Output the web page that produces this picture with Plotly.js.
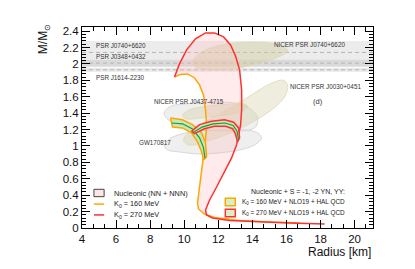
<!DOCTYPE html>
<html><head><meta charset="utf-8">
<script src="https://cdn.plot.ly/plotly-3.0.1.min.js"></script>
<style>html,body{margin:0;padding:0;background:#fff;overflow:hidden}</style>
</head><body><div id="chart" style="width:415px;height:269px"></div>
<script>
// Nucleonic (NN + NNN), K0 = 270 MeV
const redR = [9.43,9.72,10.14,10.66,11.25,11.78,12.31,12.72,13.01,13.25,13.37,13.37,13.31,13.07,12.78,12.37,11.90,11.49,11.25,11.31,11.66,12.66,14.42,16.18,18.24];
const redM = [1.841,2.0,2.171,2.305,2.378,2.378,2.329,2.232,2.098,1.927,1.683,1.439,1.256,1.012,0.854,0.683,0.500,0.341,0.220,0.159,0.122,0.091,0.073,0.061,0.049];
// Nucleonic (NN + NNN), K0 = 160 MeV
const orR = [9.43,9.78,10.19,10.61,10.90,11.13,11.25,11.31,11.25,11.13,11.02,10.90,10.78,10.84,11.19,11.78,13.25,15.01,16.77];
const orM = [1.841,1.872,1.878,1.829,1.744,1.622,1.439,1.256,1.073,0.866,0.646,0.463,0.305,0.232,0.171,0.128,0.091,0.073,0.061];

// Hyperonic band K0 = 160 MeV + NLO19 + HAL QCD
const hyOrUpR = [9.20,9.90,10.49,11.02,11.25,11.31];
const hyOrUpM = [1.34,1.32,1.26,1.16,1.04,0.87];
const hyOrLoR = [9.31,9.90,10.43,10.78,11.02,11.13];
const hyOrLoM = [1.23,1.22,1.16,1.05,0.93,0.83];
const hyOrMidR = [9.26,9.90,10.46,10.90,11.13,11.22];
const hyOrMidM = [1.28,1.27,1.21,1.10,0.98,0.85];
// Hyperonic band K0 = 270 MeV + NLO19 + HAL QCD
const hyRdUpR = [10.43,10.90,11.60,12.37,12.90,13.19,13.25];
const hyRdUpM = [1.18,1.26,1.30,1.32,1.29,1.22,1.10];
const hyRdLoR = [10.60,11.19,11.78,12.43,12.84,13.00,13.13];
const hyRdLoM = [1.15,1.21,1.24,1.24,1.21,1.15,1.05];
const hyRdMidR = [10.52,11.05,11.69,12.40,12.87,13.10,13.19];
const hyRdMidM = [1.165,1.23,1.27,1.28,1.25,1.18,1.07];

// NICER contours
const j0740R = [10.49,10.90,11.78,13.25,14.72,15.77,16.07,15.60,14.42,12.95,11.49,10.66];
const j0740M = [2.02,2.13,2.21,2.26,2.26,2.22,2.16,2.09,2.01,1.94,1.93,1.96];
const j0030R = [9.96,10.31,11.19,12.37,13.54,14.54,15.30,15.83,16.07,15.95,15.48,14.72,13.54,12.37,11.19,10.31];
const j0030M = [1.07,1.18,1.29,1.43,1.57,1.70,1.78,1.80,1.74,1.62,1.50,1.38,1.24,1.13,1.05,1.01];
const j0437R = [9.90,10.31,11.49,12.66,13.54,13.72,13.25,12.07,10.90,10.14];
const j0437M = [1.37,1.44,1.49,1.51,1.51,1.48,1.41,1.37,1.34,1.33];
// GW170817 contours
const gw1R = [8.84,9.26,10.02,10.90,12.07,13.25,13.95,14.31,14.19,13.54,12.37,11.19,10.02,9.26,8.90];
const gw1M = [1.415,1.488,1.512,1.524,1.537,1.512,1.439,1.341,1.232,1.183,1.183,1.195,1.232,1.293,1.354];
const gw2R = [8.84,9.14,9.84,10.90,12.37,13.54,14.31,14.54,14.13,13.25,12.07,10.90,9.73,9.02];
const gw2M = [1.0,1.085,1.146,1.183,1.195,1.195,1.159,1.098,1.012,0.951,0.915,0.902,0.927,0.951];

// Pulsar mass constraints [low, central, high]
const psrNames = ["PSR J0740+6620","PSR J0348+0432","PSR J1614-2230"];
const psrLow = [1.96,1.97,1.905];
const psrMid = [2.14,2.01,1.928];
const psrHigh = [2.28,2.05,1.95];

const xTicks = [4,6,8,10,12,14,16,18,20];
const yTicks = [0,0.2,0.4,0.6,0.8,1,1.2,1.4,1.6,1.8,2,2.2,2.4];

const FONT = "Liberation Sans, Arial, Helvetica, sans-serif";
function closed(aR,aM,bR,bM){return {x:aR.concat(bR.slice().reverse()), y:aM.concat(bM.slice().reverse())};}

const traces = [];
function blob(R,M,fill,line){traces.push({x:R.concat([R[0]]),y:M.concat([M[0]]),mode:'lines',fill:'toself',fillcolor:fill,line:{color:line,width:0.8,shape:'spline',smoothing:1},hoverinfo:'skip',showlegend:false});}
blob(gw1R,gw1M,'rgba(225,225,225,0.55)','#cfcfcf');
blob(gw2R,gw2M,'rgba(225,225,225,0.55)','#cfcfcf');
blob(j0437R,j0437M,'rgba(210,205,160,0.35)','#dcd9b0');
blob(j0030R,j0030M,'rgba(210,205,160,0.35)','#dcd9b0');
blob(j0740R,j0740M,'rgba(210,205,160,0.45)','#dcd9b0');

const nuc = closed(redR,redM,orR,orM);
traces.push({x:nuc.x,y:nuc.y,mode:'lines',fill:'toself',fillcolor:'rgba(255,190,190,0.3)',line:{width:0},hoverinfo:'skip',showlegend:false});
traces.push({x:orR,y:orM,mode:'lines',line:{color:'#ffa500',width:1.5},hoverinfo:'skip',showlegend:false});
traces.push({x:redR,y:redM,mode:'lines',line:{color:'#ff3030',width:1.5},hoverinfo:'skip',showlegend:false});

const hb1 = closed(hyOrUpR,hyOrUpM,hyOrLoR,hyOrLoM);
traces.push({x:hb1.x.concat([hb1.x[0]]),y:hb1.y.concat([hb1.y[0]]),mode:'lines',fill:'toself',fillcolor:'#c4e8b8',line:{color:'#ffa500',width:1.5},hoverinfo:'skip',showlegend:false});
traces.push({x:hyOrMidR,y:hyOrMidM,mode:'lines',line:{color:'#1f9a35',width:1.2},hoverinfo:'skip',showlegend:false});
const hb2 = closed(hyRdUpR,hyRdUpM,hyRdLoR,hyRdLoM);
traces.push({x:hb2.x.concat([hb2.x[0]]),y:hb2.y.concat([hb2.y[0]]),mode:'lines',fill:'toself',fillcolor:'#c4e8b8',line:{color:'#ff3030',width:1.5},hoverinfo:'skip',showlegend:false});
traces.push({x:hyRdMidR,y:hyRdMidM,mode:'lines',line:{color:'#1f9a35',width:1.2},hoverinfo:'skip',showlegend:false});

const shapes = [];
const bandFill = ['rgba(0,0,0,0.075)','rgba(0,0,0,0.075)','rgba(0,0,0,0.09)'];
for(let i=0;i<psrNames.length;i++){
  shapes.push({type:'rect',xref:'paper',yref:'y',x0:0,x1:1,y0:psrLow[i],y1:psrHigh[i],fillcolor:bandFill[i],line:{width:0},layer:'below'});
  shapes.push({type:'line',xref:'paper',yref:'y',x0:0,x1:1,y0:psrMid[i],y1:psrMid[i],line:{color:'#b4b4b4',width:1,dash:'4px,3px'},layer:'below'});
}
// legend glyphs (paper coords)
shapes.push({type:'rect',xref:'paper',yref:'paper',x0:0.041,x1:0.076,y0:0.156,y1:0.1925,fillcolor:'#fde6e6',line:{color:'#444',width:1}});
shapes.push({type:'line',xref:'paper',yref:'paper',x0:0.041,x1:0.076,y0:0.119,y1:0.119,line:{color:'#ffa500',width:1.5}});
shapes.push({type:'line',xref:'paper',yref:'paper',x0:0.041,x1:0.076,y0:0.065,y1:0.065,line:{color:'#ff3030',width:1.5}});
shapes.push({type:'rect',xref:'paper',yref:'paper',x0:0.4925,x1:0.5268,y0:0.111,y1:0.148,fillcolor:'#d6f0c8',line:{color:'#ffa500',width:1.5}});
shapes.push({type:'rect',xref:'paper',yref:'paper',x0:0.4925,x1:0.5268,y0:0.056,y1:0.093,fillcolor:'#d6f0c8',line:{color:'#ff3030',width:1.5}});

const sm = {family:FONT,size:6.3,color:'#333'};
function ann(text,x,y,opts){return Object.assign({text:text,x:x,y:y,xref:'x',yref:'y',showarrow:false,xanchor:'left',yanchor:'middle',font:sm},opts||{});}
const annotations = [
  ann(psrNames[0],4.73,2.23),
  ann(psrNames[1],4.73,2.085),
  ann(psrNames[2],4.73,1.84),
  ann('NICER PSR J0740+6620',15.13,2.235),
  ann('NICER PSR J0030+0451',16.07,1.73),
  ann('(d)',17.83,1.54,{xanchor:'center',font:{family:FONT,size:7.5,color:'#333'}}),
  ann('NICER PSR J0437-4715',8.08,1.54),
  ann('GW170817',7.2,1.04),
  {text:'Nucleonic (NN + NNN)',xref:'paper',yref:'paper',x:0.103,y:0.174,xanchor:'left',yanchor:'middle',showarrow:false,font:{family:FONT,size:7.3,color:'#222'}},
  {text:'K<sub>0</sub> = 160 MeV',xref:'paper',yref:'paper',x:0.103,y:0.121,xanchor:'left',yanchor:'middle',showarrow:false,font:{family:FONT,size:7.3,color:'#222'}},
  {text:'K<sub>0</sub> = 270 MeV',xref:'paper',yref:'paper',x:0.103,y:0.067,xanchor:'left',yanchor:'middle',showarrow:false,font:{family:FONT,size:7.3,color:'#222'}},
  {text:'Nucleonic + S = -1, -2 YN, YY:',xref:'paper',yref:'paper',x:0.575,y:0.181,xanchor:'left',yanchor:'middle',showarrow:false,font:{family:FONT,size:7,color:'#222'}},
  {text:'K<sub>0</sub> = 160 MeV + NLO19 + HAL QCD',xref:'paper',yref:'paper',x:0.5436,y:0.13,xanchor:'left',yanchor:'middle',showarrow:false,font:{family:FONT,size:6.4,color:'#222'}},
  {text:'K<sub>0</sub> = 270 MeV + NLO19 + HAL QCD',xref:'paper',yref:'paper',x:0.5436,y:0.075,xanchor:'left',yanchor:'middle',showarrow:false,font:{family:FONT,size:6.4,color:'#222'}},
  {text:'Radius [km]',xref:'paper',yref:'paper',x:1,y:-0.12,xanchor:'right',yanchor:'middle',showarrow:false,font:{family:FONT,size:12,color:'#111'}},
  {text:'M/M<sub>⊙</sub>',xref:'paper',yref:'paper',x:-0.13,y:1.025,xanchor:'center',yanchor:'top',textangle:-90,showarrow:false,font:{family:FONT,size:12,color:'#111'}}
];

const axCommon = {showline:true,linecolor:'#000',linewidth:1,mirror:'ticks',ticks:'inside',tickcolor:'#000',ticklen:8,tickwidth:1,showgrid:false,zeroline:false,tickfont:{family:FONT,size:11.5,color:'#111'},fixedrange:true};
const layout = {
  width:415,height:269,margin:{l:82,r:42,t:27,b:41},
  paper_bgcolor:'#fff',plot_bgcolor:'#fff',showlegend:false,
  xaxis:Object.assign({},axCommon,{range:[4,21.08],tickmode:'array',tickvals:xTicks,ticktext:xTicks.map(String),minor:{dtick:2/3,tick0:4,ticks:'inside',ticklen:4,tickcolor:'#000',showgrid:false}}),
  yaxis:Object.assign({},axCommon,{range:[0,2.45],tickmode:'array',tickvals:yTicks,ticktext:yTicks.map(String),minor:{dtick:0.04,tick0:0,ticks:'inside',ticklen:4,tickcolor:'#000',showgrid:false}}),
  shapes:shapes,annotations:annotations
};
Plotly.newPlot('chart',traces,layout,{staticPlot:true,displayModeBar:false});
</script></body></html>
